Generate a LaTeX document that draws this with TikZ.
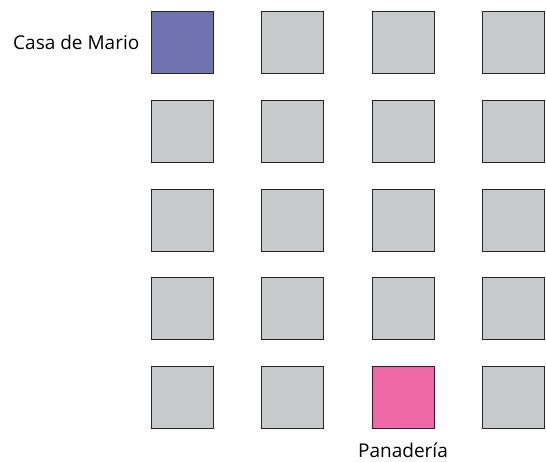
\documentclass[tikz,border=0pt]{standalone}
\usepackage{fontspec}
\setmainfont{Open Sans}
\usetikzlibrary{positioning}
\definecolor{lotgray}{RGB}{200,201,203}
\definecolor{mario}{RGB}{110,114,174}
\definecolor{bakery}{RGB}{238,106,167}

\begin{document}
\begin{tikzpicture}
  [x=1pt,y=-1pt,
   lot/.style={draw=black!85,line width=0.9pt,fill=lotgray,minimum size=62pt,inner sep=0pt},
   lot11/.style={fill=mario},
   lot53/.style={fill=bakery},
   tag/.style={font=\fontsize{19}{21}\selectfont,inner sep=0pt}]
  \useasboundingbox (0,0) rectangle (546,462);
\foreach \c/\x in {1/182,2/292.5,3/403,4/513}
  \foreach \r/\y in {1/42.5,2/131.25,3/220,4/308.75,5/397.5}
    \node[lot,lot\r\c/.try] (n\r\c) at (\x,\y) {};
  \node[tag,left=11pt of n11] (casa) {Casa de Mario};
  \node[tag,below=14pt of n53] (pan) {Panadería};
\end{tikzpicture}
\end{document}
